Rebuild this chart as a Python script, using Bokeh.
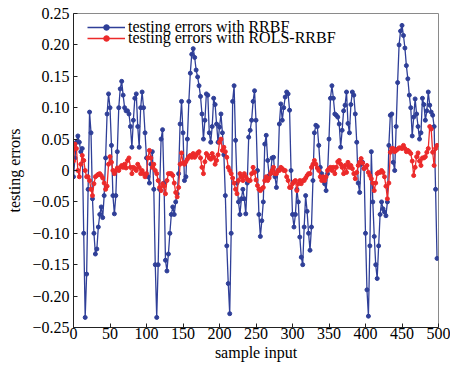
from bokeh.plotting import figure
from bokeh.models import FixedTicker, Legend, LegendItem
from bokeh.embed import file_html
from bokeh.resources import INLINE

# sample index (every second sample)
x_samples = list(range(0, 500, 2))

rrbf_errors = [
    -0.01, 0.02, 0.045, 0.055, 0.045, 0.03, 0.035, -0.10, -0.234, -0.165,
    -0.03, 0.093, 0.06, -0.045, -0.10, -0.133, -0.125, -0.09, -0.07, -0.058,
    -0.075, -0.04, 0.02, 0.09, 0.122, 0.10, 0.04, -0.04, -0.069, -0.04,
    0.03, 0.10, 0.13, 0.142, 0.12, 0.10, 0.095, 0.095, 0.09, 0.07,
    0.037, 0.08, 0.115, 0.122, 0.07, 0.037, 0.10, 0.125, 0.10, 0.06,
    0.02, -0.01, -0.02, 0.01, 0.03, -0.03, -0.15, -0.234, -0.15, -0.03,
    0.05, 0.065, -0.02, -0.143, -0.16, -0.133, -0.10, -0.07, -0.058, -0.07,
    -0.05, -0.037, -0.005, 0.074, 0.11, 0.06, -0.016, -0.01, 0.05, 0.11,
    0.155, 0.185, 0.194, 0.18, 0.16, 0.149, 0.135, 0.118, 0.09, 0.05,
    0.08, 0.122, 0.12, 0.06, 0.045, 0.07, 0.115, 0.105, 0.074, 0.045,
    0.069, 0.09, 0.06, 0.025, -0.04, -0.12, -0.18, -0.228, -0.10, 0.11,
    0.135, 0.048, -0.02, -0.05, -0.07, -0.045, -0.03, -0.045, -0.069, -0.02,
    0.053, 0.064, 0.08, 0.11, 0.127, 0.08, 0.0, -0.07, -0.105, -0.08,
    -0.05, 0.042, 0.056, 0.016, -0.008, -0.005, 0.02, 0.021, -0.01, -0.027,
    0.0, 0.074, 0.106, 0.08, 0.10, 0.117, 0.125, 0.122, 0.096, 0.0,
    -0.07, -0.09, -0.07, -0.03, -0.05, -0.106, -0.138, -0.15, -0.09, -0.04,
    -0.065, -0.10, -0.127, -0.09, -0.016, 0.06, 0.072, 0.07, 0.04, 0.005,
    -0.005, -0.016, -0.021, -0.032, -0.005, 0.05, 0.115, 0.135, 0.115, 0.09,
    0.088, 0.085, 0.074, 0.037, 0.064, 0.095, 0.104, 0.125, 0.075, 0.06,
    0.105, 0.125, 0.12, 0.09, 0.045, -0.02, -0.035, 0.01, 0.013, 0.003,
    -0.10, -0.19, -0.232, -0.12, 0.03, -0.05, -0.105, -0.15, -0.172, -0.12,
    -0.07, -0.05, -0.061, -0.066, -0.072, -0.05, 0.04, 0.088, 0.09, 0.013,
    0.0, 0.07, 0.14, 0.20, 0.222, 0.231, 0.215, 0.195, 0.167, 0.146,
    0.12, 0.10, 0.055, 0.085, 0.114, 0.09, 0.07, 0.05, 0.06, 0.115,
    0.105, 0.08, 0.095, 0.125, 0.104, 0.093, 0.088, 0.07, -0.03, -0.14,
]

rols_rrbf_errors = [
    0.015, 0.042, 0.035, 0.0, -0.01, 0.01, 0.024, 0.016, 0.0, -0.01,
    -0.01, -0.016, -0.03, -0.04, -0.021, -0.01, -0.008, -0.006, -0.005, -0.008,
    -0.012, -0.02, -0.03, -0.025, 0.01, 0.022, 0.013, 0.0, -0.005, 0.0,
    0.004, 0.0, 0.005, 0.008, 0.005, 0.01, 0.004, 0.016, 0.02, 0.005,
    -0.005, 0.005, 0.003, 0.0, 0.01, 0.005, -0.005, 0.0, -0.005, -0.01,
    -0.005, 0.02, 0.032, 0.02, 0.005, 0.01, 0.0, -0.005, -0.016, -0.027,
    -0.032, -0.021, -0.025, -0.037, -0.016, -0.005, -0.005, -0.005, -0.008, -0.02,
    -0.035, -0.042, -0.027, 0.01, 0.028, 0.012, 0.01, 0.014, 0.018, 0.022,
    0.024, 0.021, 0.027, 0.021, 0.024, 0.028, 0.03, 0.02, 0.005, -0.005,
    0.014, 0.027, 0.024, 0.02, 0.018, 0.027, 0.021, 0.01, 0.016, 0.025,
    0.045, 0.05, 0.032, 0.037, 0.03, 0.021, 0.005, 0.0, -0.005, -0.012,
    -0.02, -0.03, -0.037, -0.016, -0.005, -0.01, -0.016, -0.005, -0.01, -0.014,
    -0.016, -0.016, -0.005, 0.005, -0.003, -0.015, -0.024, -0.03, -0.032, -0.029,
    -0.027, -0.016, -0.01, -0.016, -0.012, -0.005, 0.0, 0.005, -0.005, -0.005,
    0.0, 0.0, 0.005, 0.003, 0.0, 0.0, -0.01, -0.016, -0.027, -0.027,
    -0.021, -0.018, -0.016, -0.032, -0.021, -0.016, -0.021, -0.016, -0.016, -0.012,
    -0.008, -0.005, -0.005, 0.005, 0.01, 0.016, 0.01, 0.004, 0.0, -0.01,
    -0.016, -0.01, -0.016, -0.01, 0.0, 0.003, 0.005, 0.0, 0.005, -0.005,
    0.005, 0.014, 0.016, 0.01, 0.005, -0.005, 0.008, -0.003, 0.013, 0.005,
    0.008, 0.003, -0.005, -0.013, -0.003, 0.008, 0.013, 0.019, 0.012, 0.003,
    0.005, 0.008, -0.003, -0.008, -0.013, -0.02, -0.032, -0.02, -0.005, -0.003,
    -0.003, 0.0, -0.003, -0.01, -0.025, -0.045, -0.02, 0.029, 0.035, 0.035,
    0.03, 0.032, 0.034, 0.036, 0.036, 0.035, 0.04, 0.035, 0.03, 0.032,
    0.03, 0.027, 0.015, -0.008, 0.005, 0.022, 0.028, 0.015, 0.008, 0.02,
    0.02, 0.022, 0.029, 0.035, 0.07, 0.066, 0.029, 0.008, 0.035, 0.04,
]

x_ticks = [0, 50, 100, 150, 200, 250, 300, 350, 400, 450, 500]
y_ticks = [-0.25, -0.2, -0.15, -0.1, -0.05, 0, 0.05, 0.1, 0.15, 0.2, 0.25]
y_tick_labels = ["\u22120.25", "\u22120.20", "\u22120.15", "\u22120.10", "\u22120.05",
                 "0", "0.05", "0.10", "0.15", "0.20", "0.25"]

label_rrbf = "testing errors with RRBF"
label_rols = "testing errors with ROLS-RRBF"
x_title = "sample input"
y_title = "testing errors"

BLUE = "#2f3f98"
RED = "#ec2a2a"
FONT = "Liberation Serif"
FS = "16px"

p = figure(width=450, height=370, output_backend="svg", toolbar_location=None,
           x_range=(0, 500), y_range=(-0.25, 0.25),
           min_border_left=73, min_border_right=12, min_border_top=13,
           min_border_bottom=43)

p.background_fill_color = "white"
p.border_fill_color = "white"
p.outline_line_color = "#8a8a8a"
p.outline_line_width = 1
p.grid.visible = False

r1_line = p.line(x_samples, rrbf_errors, line_color=BLUE, line_width=1.3)
r1_pts = p.scatter(x_samples, rrbf_errors, size=4, fill_color=BLUE, line_color=BLUE)
r2_line = p.line(x_samples, rols_rrbf_errors, line_color=RED, line_width=1.3)
r2_pts = p.scatter(x_samples, rols_rrbf_errors, size=4, fill_color=RED, line_color=RED)

for ax in (p.xaxis[0], p.yaxis[0]):
    ax.major_tick_in = 4
    ax.major_tick_out = 0
    ax.minor_tick_in = 0
    ax.minor_tick_out = 0
    ax.axis_line_color = "#222222"
    ax.major_tick_line_color = "#222222"
    ax.major_label_text_font = FONT
    ax.major_label_text_font_size = FS
    ax.major_label_text_color = "black"
    ax.axis_label_text_font = FONT
    ax.axis_label_text_font_size = FS
    ax.axis_label_text_font_style = "normal"
    ax.axis_label_text_color = "black"

p.xaxis.ticker = FixedTicker(ticks=x_ticks)
p.yaxis.ticker = FixedTicker(ticks=y_ticks)
p.yaxis.major_label_overrides = dict(zip(y_ticks, y_tick_labels))
p.xaxis.major_label_standoff = 0
p.yaxis.major_label_standoff = 4
p.xaxis.axis_label = x_title
p.yaxis.axis_label = y_title
p.xaxis.axis_label_standoff = 2
p.yaxis.axis_label_standoff = 6

def make_legend(item, bottom_y):
    return Legend(items=[item], location=(14, bottom_y), orientation="vertical",
                  padding=0, margin=0, spacing=0, label_standoff=3,
                  glyph_width=38, glyph_height=14, label_height=14,
                  background_fill_alpha=0, border_line_alpha=0,
                  label_text_font=FONT, label_text_font_size=FS,
                  label_text_color="black")

lg1 = make_legend(LegendItem(label=label_rrbf, renderers=[r1_line, r1_pts]), 291)
lg2 = make_legend(LegendItem(label=label_rols, renderers=[r2_line, r2_pts]), 280)
p.add_layout(lg1, "center")
p.add_layout(lg2, "center")

open("out.html", "w").write(file_html(p, INLINE))
